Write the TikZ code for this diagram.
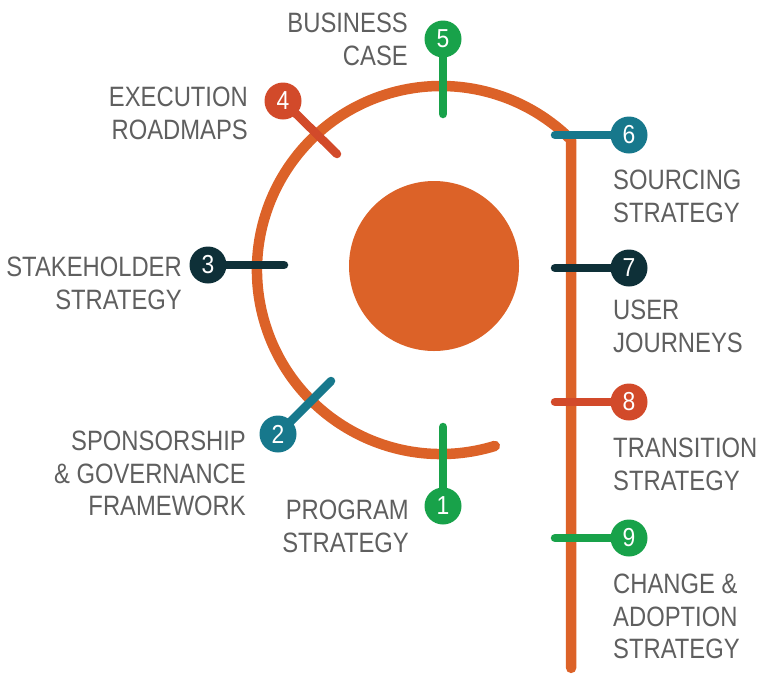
\documentclass[tikz,border=0pt]{standalone}
\usepackage{fontspec}
\setmainfont{Liberation Sans}[FakeStretch=0.85]
\newfontfamily\numfont{Liberation Sans}[FakeStretch=0.88]
\definecolor{corange}{HTML}{DC6228}
\definecolor{cgreen}{HTML}{18A24A}
\definecolor{cred}{HTML}{D24A2A}
\definecolor{cteal}{HTML}{17788C}
\definecolor{cdark}{HTML}{0E3038}
\definecolor{txtgray}{HTML}{5F5F5F}
\begin{document}
\begin{tikzpicture}[x=1pt,y=-1pt,
  pinline/.style={line width=8.5pt, line cap=round, draw=#1},
  pinball/.style={circle, fill=#1, minimum size=37pt, inner sep=0pt, text=white,
    font=\numfont\fontsize{26}{26}\selectfont},
  lbl/.style={text=txtgray, inner sep=0pt, font=\fontsize{28}{32.5}\selectfont},
  lblL/.style={lbl, anchor=north east, align=right},
  lblR/.style={lbl, anchor=north west, align=left}]
\useasboundingbox (0,0) rectangle (759,675);

% main track
\coordinate (arcC) at (441,270);
\coordinate (bigC) at (434,266);
\draw[corange, line width=10.5pt, line cap=round, line join=round]
  (arcC) ++(73:184) arc[start angle=73, end angle=315, radius=184]
  coordinate (turn) -- ++(0,528) coordinate (trackEnd);
\node[circle, fill=corange, minimum size=170pt, inner sep=0pt] (core) at (bigC) {};

% pin centres and stem ends
\coordinate (c1) at (443,506); \coordinate (s1) at (443,427);
\coordinate (c2) at (278,434); \coordinate (s2) at (331,381);
\coordinate (c3) at (208,265); \coordinate (s3) at (284,265);
\coordinate (c4) at (283,101); \coordinate (s4) at (337,154);
\coordinate (c5) at (443,39);  \coordinate (s5) at (443,114);
\coordinate (c6) at (629,135); \coordinate (s6) at (555,135);
\coordinate (c7) at (629,268); \coordinate (s7) at (555,268);
\coordinate (c8) at (629,402); \coordinate (s8) at (555,402);
\coordinate (c9) at (629,538); \coordinate (s9) at (555,538);

\draw[pinline=cgreen] (c1) -- (s1);
\draw[pinline=cteal]  (c2) -- (s2);
\draw[pinline=cdark]  (c3) -- (s3);
\draw[pinline=cred]   (c4) -- (s4);
\draw[pinline=cgreen] (c5) -- (s5);
\draw[pinline=cteal]  (c6) -- (s6);
\draw[pinline=cdark]  (c7) -- (s7);
\draw[pinline=cred]   (c8) -- (s8);
\draw[pinline=cgreen] (c9) -- (s9);

\node[pinball=cgreen] (p1) at (c1) {1};
\node[pinball=cteal]  (p2) at (c2) {2};
\node[pinball=cdark]  (p3) at (c3) {3};
\node[pinball=cred]   (p4) at (c4) {4};
\node[pinball=cgreen] (p5) at (c5) {5};
\node[pinball=cteal]  (p6) at (c6) {6};
\node[pinball=cdark]  (p7) at (c7) {7};
\node[pinball=cred]   (p8) at (c8) {8};
\node[pinball=cgreen] (p9) at (c9) {9};

% labels
\node[lblL] (l5) at (408,13)  {BUSINESS\\CASE};
\node[lblL] (l4) at (248,87)  {EXECUTION\\ROADMAPS};
\node[lblL] (l3) at (182,257) {STAKEHOLDER\\STRATEGY};
\node[lblL] (l2) at (246,431) {SPONSORSHIP\\\& GOVERNANCE\\FRAMEWORK};
\node[lblL] (l1) at (409,500) {PROGRAM\\STRATEGY};
\node[lblR] (l6) at (613,170) {SOURCING\\STRATEGY};
\node[lblR] (l7) at (613,300) {USER\\JOURNEYS};
\node[lblR] (l8) at (613,438) {TRANSITION\\STRATEGY};
\node[lblR] (l9) at (613,574) {CHANGE \&\\ADOPTION\\STRATEGY};
\end{tikzpicture}
\end{document}
